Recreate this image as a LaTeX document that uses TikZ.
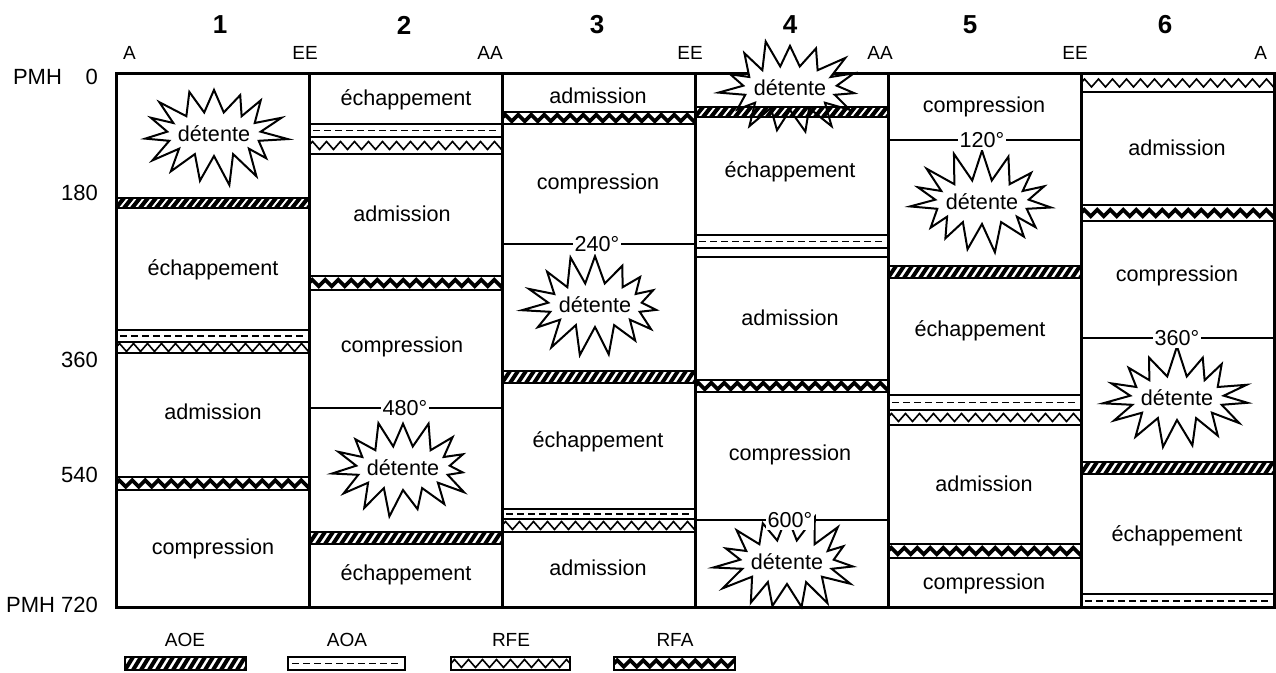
\documentclass[tikz,border=0pt]{standalone}
\usepackage{fontspec}
\setmainfont{Liberation Sans}
\usetikzlibrary{decorations.pathmorphing}

% bands: left x, top y, right x, bottom y
\newcommand{\aoe}[4]{%
  \begin{scope}
    \clip (#1,#2) rectangle (#3,#4);
    \foreach \k in {0,8,...,208} \draw[line width=2pt] (#1-8+\k,#4) -- (#1+\k,#2);
  \end{scope}
  \draw[band] (#1,#2) rectangle (#3,#4);}
\newcommand{\aoa}[4]{%
  \draw[band] (#1,#2) rectangle (#3,#4);
  \draw[line width=0.9pt, dash pattern=on 3.5pt off 2pt] (#1+4,{(#2+#4)/2}) -- (#3-4,{(#2+#4)/2});}
\newcommand{\rfe}[4]{%
  \begin{scope}
    \clip (#1,#2) rectangle (#3,#4);
    \draw[line width=0.8pt, decorate, decoration={zigzag, segment length=7pt, amplitude=2pt}]
      (#1,{(#2+#4)/2}) -- (#3+14,{(#2+#4)/2});
  \end{scope}
  \draw[band] (#1,#2) rectangle (#3,#4);}
\newcommand{\rfa}[4]{%
  \begin{scope}
    \clip (#1,#2) rectangle (#3,#4);
    \draw[line width=1.9pt, decorate, decoration={zigzag, segment length=6.5pt, amplitude=1.6pt}]
      (#1,{(#2+#4)/2}) -- (#3+14,{(#2+#4)/2});
  \end{scope}
  \draw[band] (#1,#2) rectangle (#3,#4);}
% explosion: centre x, centre y, seed, name
\newcommand{\burst}[4]{%
  \pgfmathsetseed{#3}
  \draw[fill=white, line width=1pt] plot[variable=\i, samples at={0,...,29}]
    ({#1+(mod(\i,2)==0 ? 72*(0.82+0.22*rnd) : 47)*cos(\i*12+6)},
     {#2+(mod(\i,2)==0 ? 52*(0.8+0.22*rnd) : 22)*sin(\i*12+6)}) -- cycle;
  \node[phase] (#4) at (#1,#2) {détente};}

\begin{document}
\begin{tikzpicture}[x=0.5pt,y=-0.5pt,
    band/.style={draw, line width=1pt},
    frame/.style={line width=1.5pt},
    phase/.style={font=\fontsize{10.8}{12}\selectfont},
    angline/.style={line width=1pt},
    anglab/.style={fill=white, inner sep=1pt, font=\fontsize{10.8}{12}\selectfont},
    cyl/.style={font=\bfseries\fontsize{13}{15}\selectfont},
    valve/.style={font=\fontsize{9.5}{11}\selectfont},
    deg/.style={font=\fontsize{11}{13}\selectfont}]
  \useasboundingbox (0,0) rectangle (1276,673);

  % frame
  \draw[frame] (116,74) rectangle (1274,608);
  \foreach \x in {309,502,695,888,1081}
    \draw[frame] (\x,74) -- (\x,608);

  % cylinders and valves
  \node[cyl] (n1) at (220,25) {1};
  \node[cyl] (n2) at (404,25) {2};
  \node[cyl] (n3) at (597,25) {3};
  \node[cyl] (n4) at (790,25) {4};
  \node[cyl] (n5) at (970,25) {5};
  \node[cyl] (n6) at (1165,25) {6};
  \node[valve,anchor=west] (v0) at (116,53) {A};
  \node[valve] (v1) at (305,53) {EE};
  \node[valve] (v2) at (490,53) {AA};
  \node[valve] (v3) at (690,53) {EE};
  \node[valve] (v4) at (880,53) {AA};
  \node[valve] (v5) at (1075,53) {EE};
  \node[valve,anchor=east] (v6) at (1274,53) {A};

  % crank angles
  \node[deg,anchor=west] (pmh0) at (6,77) {PMH};
  \node[deg,anchor=east] (d0) at (105,77) {0};
  \node[deg,anchor=east] (d180) at (105,193) {180};
  \node[deg,anchor=east] (d360) at (105,360) {360};
  \node[deg,anchor=east] (d540) at (105,475) {540};
  \node[deg,anchor=east] (d720) at (105,605) {PMH 720};

  % phases
  \node[phase] (c1e) at (213,270) {échappement};
  \node[phase] (c1a) at (213,412) {admission};
  \node[phase] (c1c) at (213,549) {compression};
  \node[phase] (c2e) at (406,100) {échappement};
  \node[phase] (c2a) at (402,214) {admission};
  \node[phase] (c2c) at (402,347) {compression};
  \node[phase] (c2f) at (406,575) {échappement};
  \node[phase] (c3a) at (598,96) {admission};
  \node[phase] (c3c) at (598,184) {compression};
  \node[phase] (c3e) at (598,442) {échappement};
  \node[phase] (c3b) at (598,568) {admission};
  \node[phase] (c4e) at (790,172) {échappement};
  \node[phase] (c4a) at (790,318) {admission};
  \node[phase] (c4c) at (790,455) {compression};
  \node[phase] (c5c) at (984,107) {compression};
  \node[phase] (c5e) at (980,331) {échappement};
  \node[phase] (c5a) at (984,484) {admission};
  \node[phase] (c5d) at (984,584) {compression};
  \node[phase] (c6a) at (1177,148) {admission};
  \node[phase] (c6c) at (1177,276) {compression};
  \node[phase] (c6e) at (1177,536) {échappement};

  % explosions
  \burst{214}{134}{3}{b1}
  \burst{403}{468}{5}{b2}
  \burst{595}{305}{7}{b3}
  \burst{790}{88}{11}{b4}
  \burst{787}{562}{13}{b5}
  \burst{982}{202}{17}{b6}
  \burst{1177}{398}{19}{b7}

  % valve bands
  \aoe{116}{198}{309}{208} \aoa{116}{330}{309}{342} \rfe{116}{342}{309}{353} \rfa{116}{477}{309}{490}
  \aoa{309}{124}{502}{137} \rfe{309}{137}{502}{154} \rfa{309}{276}{502}{290} \aoe{309}{532}{502}{544}
  \rfa{502}{112}{695}{124} \aoe{502}{371}{695}{383} \aoa{502}{509}{695}{519} \rfe{502}{519}{695}{532}
  \aoe{695}{107}{888}{117} \aoa{695}{235}{888}{248} \draw[band] (695,248) rectangle (888,257); \rfa{695}{380}{888}{392}
  \aoe{888}{266}{1081}{278} \aoa{888}{395}{1081}{410} \rfe{888}{410}{1081}{425} \rfa{888}{544}{1081}{558}
  \rfe{1081}{74}{1274}{92} \rfa{1081}{205}{1274}{221} \aoe{1081}{462}{1274}{474} \aoa{1081}{594}{1274}{608}

  % ignition angles
  \draw[angline] (309,408) -- (502,408);
  \node[anglab] (a480) at (405,408) {480°};
  \draw[angline] (502,244) -- (695,244);
  \node[anglab] (a240) at (597,244) {240°};
  \draw[angline] (695,520) -- (888,520);
  \node[anglab] (a600) at (790,520) {600°};
  \draw[angline] (888,140) -- (1081,140);
  \node[anglab] (a120) at (982,140) {120°};
  \draw[angline] (1081,338) -- (1274,338);
  \node[anglab] (a360) at (1177,338) {360°};

  % legend
  \node[valve] (laoe) at (185,640) {AOE};
  \node[valve] (laoa) at (347,640) {AOA};
  \node[valve] (lrfe) at (511,640) {RFE};
  \node[valve] (lrfa) at (675,640) {RFA};
  \aoe{125}{657}{246}{670}
  \aoa{288}{657}{405}{670}
  \rfe{451}{657}{570}{670}
  \rfa{614}{657}{735}{670}
\end{tikzpicture}
\end{document}
